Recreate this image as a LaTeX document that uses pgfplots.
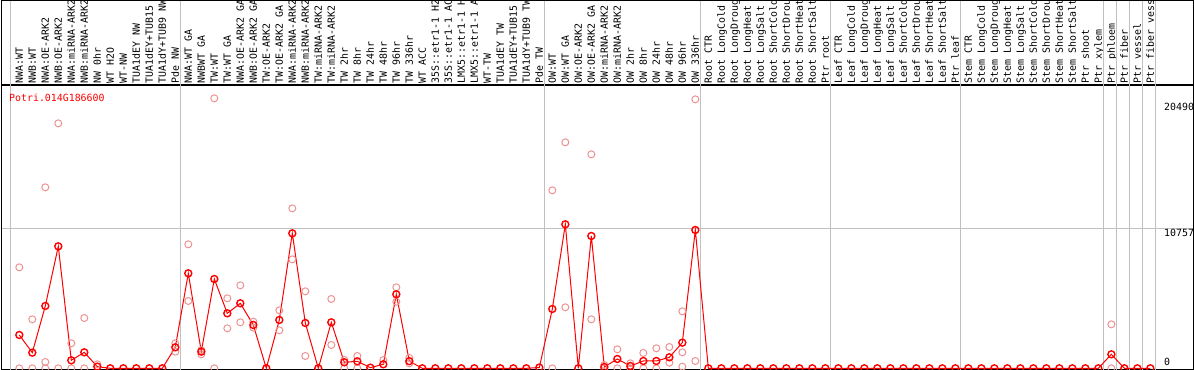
\documentclass[border=0pt]{standalone}
\usepackage{pgfplots}
\pgfplotsset{compat=1.18}
\usepackage{fontspec}
\newfontfamily\mono{DejaVu Sans Mono}
\newcommand{\lab}{\mono\fontsize{9.9bp}{10bp}\selectfont}
\definecolor{sepgray}{RGB}{192,192,192}
\definecolor{lightred}{RGB}{238,146,146}
\definecolor{pure}{RGB}{255,0,0}
\begin{document}
\begin{tikzpicture}
\useasboundingbox (0,0) rectangle (1194bp,370bp);
\fill[white] (0,0) rectangle (1194bp,370bp);
\begin{axis}[
  at={(1.5bp,0.5bp)}, anchor=south west,
  scale only axis, width=1192bp, height=284.5bp,
  xmin=-1.369, xmax=90.323, ymin=-92, ymax=21769,
  axis line style={line width=1.2bp, black},
  scaled y ticks=false, scaled x ticks=false,
  xtick={0,...,87},
  xticklabels={NWA:WT,NWB:WT,NWA:OE-ARK2,NWB:OE-ARK2,NWA:miRNA-ARK2,NWB:miRNA-ARK2,NW 0hr,WT H2O,WT-NW,TUA1dEY NW,TUA1dEY+TUB15,TUA1dY+TUB9 NW,Pde NW,
    NWA:WT GA,NWBWT GA,TW:WT,TW:WT GA,NWA:OE-ARK2 GA,NWB:OE-ARK2 GA,TW:OE-ARK2,TW:OE-ARK2 GA,NWA:miRNA-ARK2,NWB:miRNA-ARK2,TW:miRNA-ARK2,TW:miRNA-ARK2,TW 2hr,TW 8hr,TW 24hr,TW 48hr,TW 96hr,TW 336hr,WT ACC,35S::etr1-1 H2,35S::etr1-1 AC,LMX5::etr1-1 H,LMX5::etr1-1 A,WT-TW,TUA1dEY TW,TUA1dEY+TUB15,TUA1dY+TUB9 TW,Pde TW,
    OW:WT,OW:WT GA,OW:OE-ARK2,OW:OE-ARK2 GA,OW:miRNA-ARK2,OW:miRNA-ARK2,OW 2hr,OW 8hr,OW 24hr,OW 48hr,OW 96hr,OW 336hr,
    Root CTR,Root LongCold,Root LongDroug,Root LongHeat,Root LongSalt,Root ShortCold,Root ShortDrou,Root ShortHeat,Root ShortSalt,Ptr root,
    Leaf CTR,Leaf LongCold,Leaf LongDroug,Leaf LongHeat,Leaf LongSalt,Leaf ShortCold,Leaf ShortDrou,Leaf ShortHeat,Leaf ShortSalt,Ptr leaf,
    Stem CTR,Stem LongCold,Stem LongDroug,Stem LongHeat,Stem LongSalt,Stem ShortCold,Stem ShortDrou,Stem ShortHeat,Stem ShortSalt,Ptr shoot,Ptr xylem,
    Ptr phloem,Ptr fiber,Ptr vessel,Ptr fiber vess},
  xticklabel pos=upper, xtick pos=upper,
  xticklabel shift=1.5bp,
  xticklabel style={font=\lab, rotate=90, anchor=west, inner sep=0pt, text height=7.2bp, text depth=0pt},
  major tick length=0pt,
  ytick={10757}, yticklabels={}, ymajorgrids=true,
  major grid style={sepgray, line width=1bp},
  extra x ticks={-0.66,12.38,40.38,52.38,62.38,72.38,83.38,84.38,85.38,86.38,87.38},
  extra x tick labels={,,,,,,,,,,},
  extra x tick style={xticklabel={}, xmajorgrids=true, tick align=outside, major tick length=85bp,
    major tick style={sepgray, line width=1bp}, major grid style={sepgray, line width=1bp}},
]
\addplot[only marks, mark=o, mark size=3.5bp, color=lightred, mark options={line width=1bp}] coordinates {
(0,7760)(0,0)(1,3765)(1,0)(2,13906)(2,487)(2,0)(3,18823)(3,0)(4,1921)(4,0)(5,3867)(5,0)(6,307)
(12,1921)(12,1280)(13,9527)(13,5173)(14,1400)(14,1075)(15,20744)(15,0)(16,5378)(16,3073)
(17,6377)(17,3534)(18,3585)(18,3124)(20,4456)(20,2920)(21,12293)(21,8374)(22,5916)(22,948)
(24,5327)(24,1793)(25,640)(25,0)(26,948)(26,0)(28,638)(29,6223)(29,5117)(30,791)(30,384)
(41,13675)(41,0)(42,17364)(42,4687)(44,16441)(44,3765)(45,256)(45,0)(46,1460)(46,0)
(47,384)(47,0)(48,1178)(48,0)(49,1537)(49,0)(50,1639)(50,435)(51,4379)(51,1229)(51,128)
(52,20667)(52,563)(84,3380)(84,0)
};
\addplot[pure, line width=1bp, mark=o, mark size=3.5bp, mark options={line width=1.4bp}] coordinates {
(0,2561)(1,1204)(2,4789)(3,9373)(4,615)(5,1229)(6,128)(7,0)(8,0)(9,0)(10,0)(11,0)(12,1613)
(13,7299)(14,1280)(15,6863)(16,4226)(17,4994)(18,3329)(19,0)(20,3713)(21,10372)(22,3483)(23,0)
(24,3534)(25,461)(26,538)(27,50)(28,307)(29,5685)(30,550)(31,0)(32,0)(33,0)(34,0)(35,0)(36,0)
(37,0)(38,0)(39,0)(40,60)(41,4558)(42,11064)(43,0)(44,10167)(45,102)(46,717)(47,179)(48,563)
(49,563)(50,845)(51,1972)(52,10628)(53,0)(54,0)(55,0)(56,0)(57,0)(58,0)(59,0)(60,0)(61,0)(62,0)
(63,0)(64,0)(65,0)(66,0)(67,0)(68,0)(69,0)(70,0)(71,0)(72,0)(73,0)(74,0)(75,0)(76,0)(77,0)
(78,0)(79,0)(80,0)(81,0)(82,0)(83,0)(84,1076)(85,0)(86,0)(87,0)
};
\node[anchor=north west, inner sep=0pt, font=\lab, text=pure] at (axis cs:-0.79,21131) {Potri.014G186600};
\node[anchor=north west, inner sep=0pt, font=\lab, yshift=-1.6bp] at (axis cs:88.05,20490) {20490};
\node[anchor=north west, inner sep=0pt, font=\lab, yshift=-0.7bp] at (axis cs:88.05,10757) {10757};
\node[anchor=south west, inner sep=0pt, font=\lab, yshift=2.3bp] at (axis cs:88.05,0) {0};
\end{axis}
\draw[line width=1.2bp, black] (1.5bp,285bp) |- (1193.5bp,369.4bp) -- (1193.5bp,285bp);
\end{tikzpicture}
\end{document}
